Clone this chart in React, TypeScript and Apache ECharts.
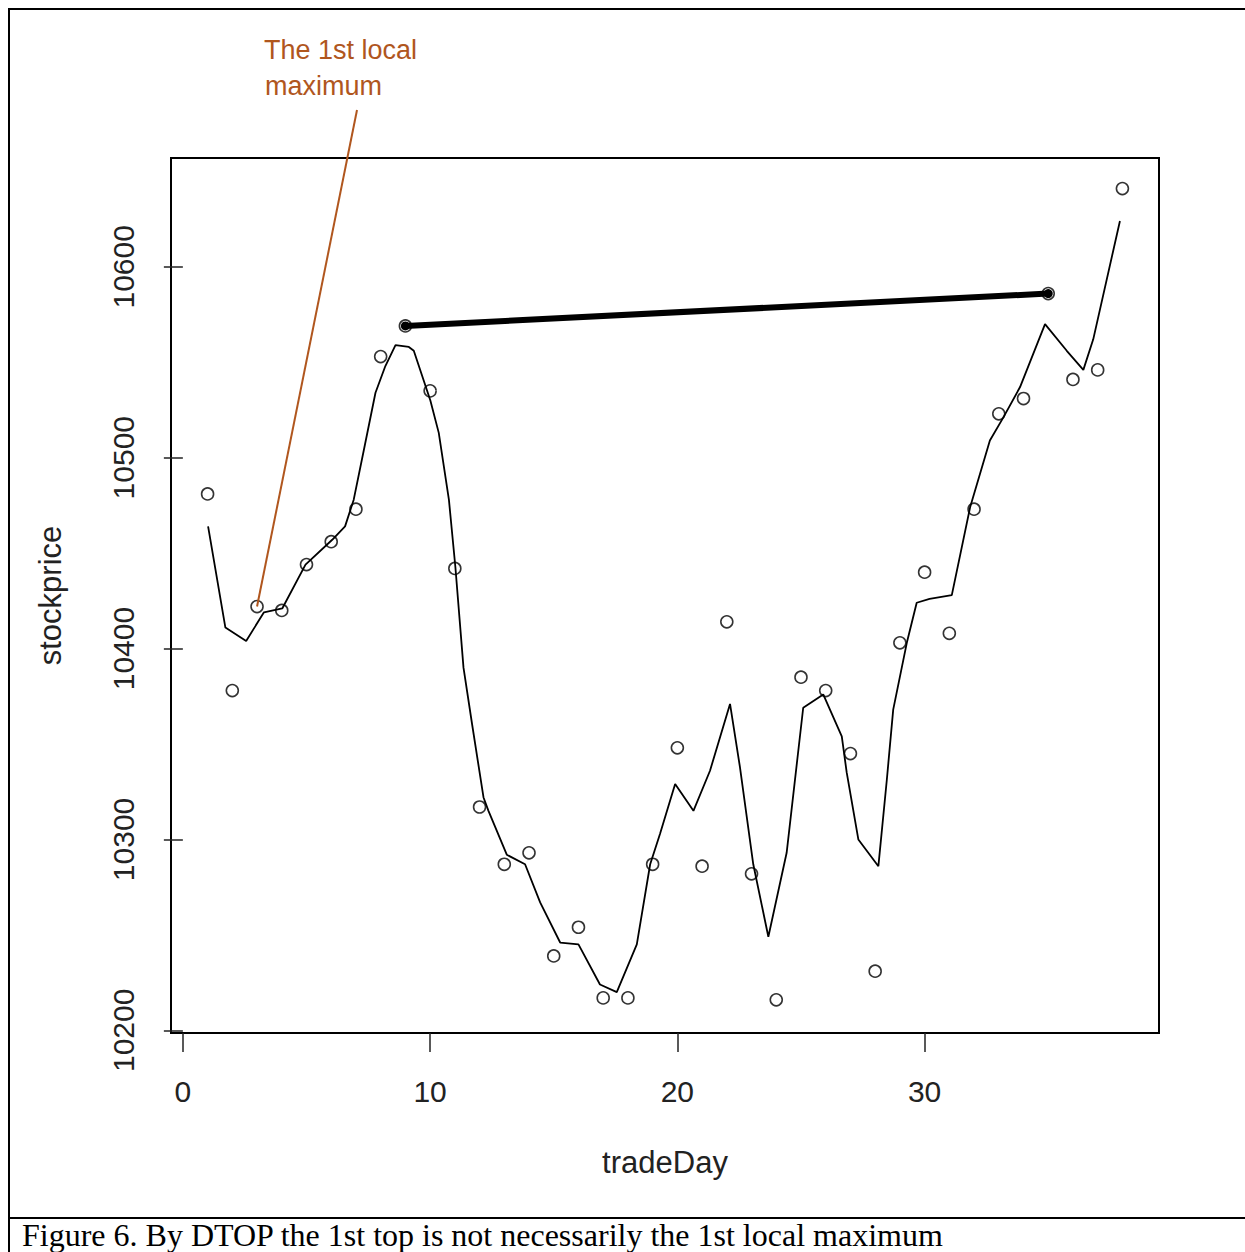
import React, { useEffect, useRef } from "react";
import * as echarts from "echarts";

const days: number[] = Array.from({ length: 38 }, (_, i) => i + 1);
const prices: number[] = [
  10481, 10378, 10422, 10420, 10444, 10456, 10473, 10553, 10569, 10535,
  10442, 10317, 10287, 10293, 10239, 10254, 10217, 10217, 10287, 10348,
  10286, 10414, 10282, 10216, 10385, 10378, 10345, 10231, 10403, 10440,
  10408, 10473, 10523, 10531, 10586, 10541, 10546, 10641,
];

const smoothX: number[] = [
  1.02, 1.72, 2.56, 3.28, 4.02, 4.96, 6.04, 6.56, 6.91, 7.32, 7.79, 8.19, 8.6, 9.14,
  9.34, 10.01, 10.35, 10.76, 11.02, 11.35, 11.69, 12.16, 12.36, 13.1, 13.84, 14.45,
  15.26, 16.0, 16.87, 17.55, 18.36, 18.9, 19.3, 19.91, 20.65, 21.32, 22.13, 22.53,
  23.07, 23.68, 24.42, 25.09, 25.9, 26.65, 26.85, 27.32, 28.13, 28.47, 28.73, 29.28,
  29.68, 30.2, 31.1, 31.84, 32.64, 33.18, 33.86, 34.87, 35.75, 36.42, 36.82, 37.9,
];
const smoothY: number[] = [
  10464, 10411, 10404, 10419, 10421, 10444, 10457, 10464, 10478, 10504, 10534, 10548,
  10559, 10558, 10556, 10530, 10513, 10478, 10443, 10390, 10361, 10322, 10315, 10292,
  10287, 10267, 10246, 10245, 10224, 10220, 10245, 10287, 10303, 10329, 10315, 10336,
  10371, 10338, 10287, 10249, 10293, 10369, 10376, 10354, 10335, 10300, 10286, 10331,
  10368, 10403, 10424, 10426, 10428, 10474, 10509, 10521, 10537, 10570, 10556, 10546,
  10562, 10624,
];

const topDays: number[] = [9, 35];
const xTicks: number[] = [0, 10, 20, 30];
const yTicks: number[] = [10200, 10300, 10400, 10500, 10600];
const annotationLines: string[] = ["The 1st local", "maximum"];
const annotatedDay = 3;
const caption = "Figure 6. By DTOP the 1st top is not necessarily the 1st local maximum";

const BROWN = "#B0561E";

export default function App() {
  const ref = useRef<HTMLDivElement>(null);
  useEffect(() => {
    if (!ref.current) return;
    const chart = echarts.init(ref.current, null, { renderer: "svg" });
    const option: any = {
      animation: false,
      backgroundColor: "#fff",
      grid: {
        left: 171,
        right: 86,
        top: 158,
        bottom: 219,
        show: true,
        borderColor: "#000",
        borderWidth: 2,
        containLabel: false,
      },
      xAxis: {
        type: "value",
        min: -0.48,
        max: 39.48,
        name: "tradeDay",
        nameLocation: "middle",
        nameGap: 114,
        nameTextStyle: { fontSize: 31, color: "#222", fontFamily: "Liberation Sans" },
        axisLine: { show: false },
        splitLine: { show: false },
        axisTick: {
          show: true,
          length: 19,
          customValues: xTicks,
          lineStyle: { color: "#222", width: 1.5 },
        },
        axisLabel: {
          customValues: xTicks,
          fontSize: 30,
          margin: 43,
          color: "#222",
          fontFamily: "Liberation Sans",
          formatter: (v: number) => String(v),
        },
      },
      yAxis: {
        type: "value",
        min: 10198.6,
        max: 10657,
        name: "stockprice",
        nameLocation: "middle",
        nameGap: 105,
        nameTextStyle: { fontSize: 31, color: "#222", fontFamily: "Liberation Sans" },
        axisLine: { show: false },
        splitLine: { show: false },
        axisTick: {
          show: true,
          length: 19,
          customValues: yTicks,
          lineStyle: { color: "#222", width: 1.5 },
        },
        axisLabel: {
          customValues: yTicks,
          rotate: 90,
          fontSize: 30,
          margin: 33,
          color: "#222",
          fontFamily: "Liberation Sans",
          formatter: (v: number) => String(v),
        },
      },
      series: [
        {
          type: "scatter",
          data: days.map((d, i) => [d, prices[i]]),
          symbol: "circle",
          symbolSize: 12,
          itemStyle: { color: "rgba(0,0,0,0)", borderColor: "#000", borderWidth: 1.6 },
          z: 2,
        },
        {
          type: "line",
          data: smoothX.map((x, i) => [x, smoothY[i]]),
          showSymbol: false,
          symbol: "none",
          lineStyle: { color: "#000", width: 1.8 },
          z: 3,
        },
        {
          type: "line",
          data: topDays.map((d) => [d, prices[d - 1]]),
          symbol: "circle",
          symbolSize: 9,
          showSymbol: true,
          itemStyle: { color: "#000" },
          lineStyle: { color: "#000", width: 6 },
          z: 4,
        },
      ],
    };
    chart.setOption(option);

    const target = chart.convertToPixel({ gridIndex: 0 }, [annotatedDay, prices[annotatedDay - 1]]) as number[];
    chart.setOption({
      graphic: [
        {
          type: "line",
          shape: { x1: 9, y1: 9, x2: 1245, y2: 9 },
          style: { stroke: "#000", lineWidth: 2 },
        },
        {
          type: "line",
          shape: { x1: 9, y1: 8, x2: 9, y2: 1252 },
          style: { stroke: "#000", lineWidth: 2 },
        },
        {
          type: "line",
          shape: { x1: 9, y1: 1218, x2: 1245, y2: 1218 },
          style: { stroke: "#000", lineWidth: 2 },
        },
        {
          type: "text",
          x: 22,
          y: 1235,
          style: {
            text: caption,
            fontSize: 32,
            fontFamily: "Liberation Serif",
            fill: "#000",
            verticalAlign: "middle",
          },
        },
        {
          type: "text",
          x: 264,
          y: 36,
          style: {
            text: annotationLines[0],
            fontSize: 27,
            fontFamily: "Liberation Sans",
            fill: BROWN,
            verticalAlign: "top",
          },
        },
        {
          type: "text",
          x: 265,
          y: 72,
          style: {
            text: annotationLines[1],
            fontSize: 27,
            fontFamily: "Liberation Sans",
            fill: BROWN,
            verticalAlign: "top",
            letterSpacing: 2,
          },
        },
        {
          type: "line",
          shape: { x1: 357, y1: 110, x2: target[0], y2: target[1] },
          style: { stroke: BROWN, lineWidth: 2 },
          z: 10,
        },
      ],
    });
    return () => chart.dispose();
  }, []);
  return (
    <div
      ref={ref}
      style={{ position: "absolute", left: 0, top: 0, width: 1245, height: 1252 }}
    />
  );
}
